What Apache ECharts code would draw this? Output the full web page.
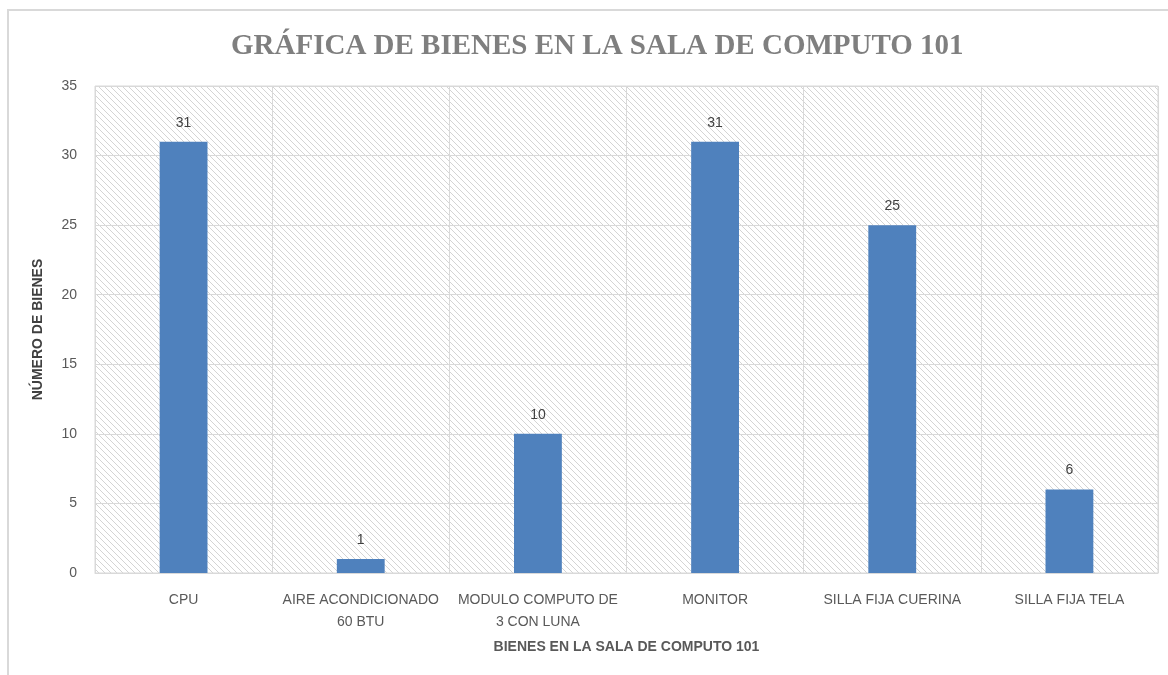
<!DOCTYPE html>
<html>
<head>
<meta charset="utf-8">
<script src="https://cdn.jsdelivr.net/npm/echarts@6/dist/echarts.min.js"></script>
<style>
  html, body { margin: 0; padding: 0; background: #fff; }
  #main { width: 1168px; height: 675px; }
</style>
</head>
<body>
<div id="main"></div>
<script>
// datos de la grafica
var categorias = ['CPU', 'AIRE ACONDICIONADO\n60 BTU', 'MODULO COMPUTO DE\n3 CON LUNA', 'MONITOR', 'SILLA FIJA CUERINA', 'SILLA FIJA TELA'];
var cantidades = [31, 1, 10, 31, 25, 6];
var yTicks = [0, 5, 10, 15, 20, 25, 30, 35];

var fuente = '"Liberation Sans Narrow", "Liberation Sans", sans-serif';

// patron de rayas diagonales para el fondo del area de trazado
function hacerRayas() {
    var c = document.createElement('canvas');
    c.width = 6; c.height = 6;
    var ctx = c.getContext('2d');
    ctx.fillStyle = '#ffffff';
    ctx.fillRect(0, 0, 6, 6);
    ctx.strokeStyle = '#d4d4d4';
    ctx.lineWidth = 1;
    ctx.beginPath();
    ctx.moveTo(-1, -1); ctx.lineTo(7, 7);
    ctx.moveTo(-4, 2); ctx.lineTo(2, 8);
    ctx.moveTo(2, -4); ctx.lineTo(8, 2);
    ctx.stroke();
    return c;
}

var myChart = echarts.init(document.getElementById('main'));
var option = {
    backgroundColor: '#fff',
    animation: false,
    // marco del grafico (esquina superior izquierda)
    graphic: [{
        type: 'polyline',
        silent: true,
        shape: { points: [[8, 680], [8, 10], [1175, 10]] },
        style: { stroke: '#d9d9d9', lineWidth: 2, fill: null }
    }],
    title: {
        text: 'GRÁFICA DE BIENES EN LA SALA DE COMPUTO 101',
        left: 226,
        top: 27,
        textStyle: {
            fontFamily: '"Liberation Serif", serif',
            fontWeight: 'bold',
            fontSize: 29,
            color: '#7f7f7f'
        }
    },
    grid: {
        left: 95,
        right: 10,
        top: 86,
        bottom: 102,
        show: true,
        backgroundColor: { image: hacerRayas(), repeat: 'repeat' },
        borderColor: '#d9d9d9',
        borderWidth: 1
    },
    xAxis: {
        type: 'category',
        data: categorias,
        name: 'BIENES EN LA SALA DE COMPUTO 101',
        nameLocation: 'middle',
        nameGap: 67,
        nameTextStyle: { fontFamily: fuente, fontWeight: 'bold', fontSize: 14, color: '#595959' },
        axisLine: { lineStyle: { color: '#d9d9d9' } },
        axisTick: { show: false },
        splitLine: { show: true, lineStyle: { color: '#d9d9d9' } },
        axisLabel: { fontFamily: fuente, fontSize: 14, color: '#595959', margin: 16, lineHeight: 22, interval: 0 }
    },
    yAxis: {
        type: 'value',
        min: 0,
        max: 35,
        interval: 5,
        name: 'NÚMERO DE BIENES',
        nameLocation: 'middle',
        nameGap: 50,
        nameTextStyle: { fontFamily: fuente, fontWeight: 'bold', fontSize: 14, color: '#404040' },
        axisLine: { show: false },
        axisTick: { show: false },
        splitLine: { lineStyle: { color: '#d9d9d9' } },
        axisLabel: { fontFamily: fuente, fontSize: 14, color: '#595959', margin: 18 }
    },
    series: [{
        type: 'bar',
        data: cantidades,
        barWidth: '27%',
        itemStyle: { color: '#4f81bd' },
        label: {
            show: true,
            position: 'top',
            distance: 12,
            fontFamily: fuente,
            fontSize: 14,
            color: '#404040'
        }
    }]
};
myChart.setOption(option);
</script>
</body>
</html>
